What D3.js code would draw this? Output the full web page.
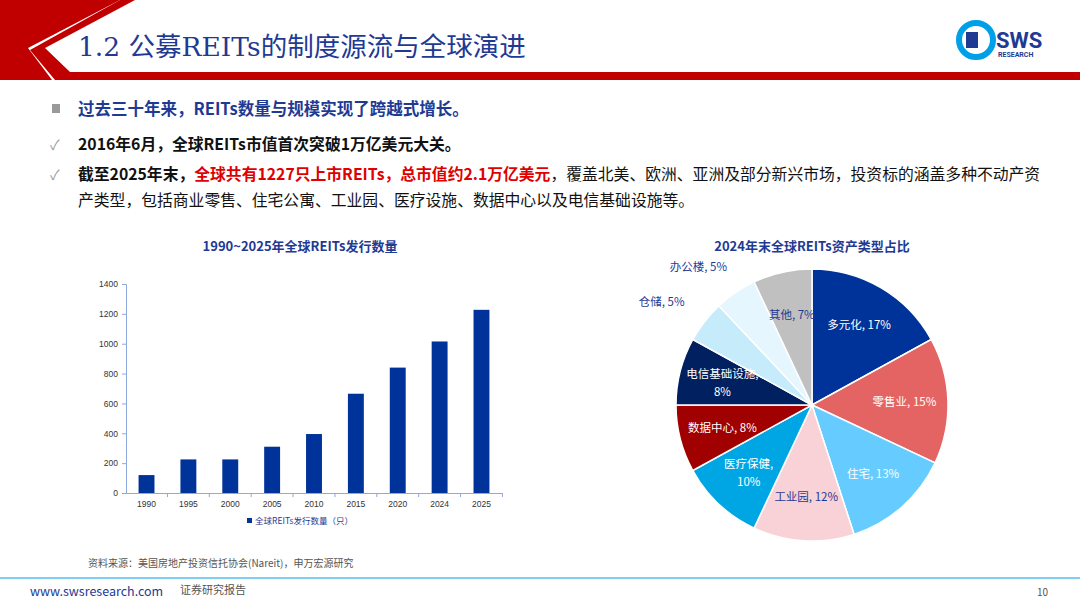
<!DOCTYPE html>
<html><head><meta charset="utf-8">
<script src="https://cdn.jsdelivr.net/npm/d3@7"></script>
<style>body{margin:0;background:#fff}svg{display:block;font-family:"Noto Sans CJK SC","Noto Sans",sans-serif}</style>
</head><body><svg id="c" width="1080" height="608"></svg>
<script>
const years = ['1990','1995','2000','2005','2010','2015','2020','2024','2025'];
const counts = [120, 225, 225, 310, 395, 665, 840, 1015, 1227];
const yTicks = [0,200,400,600,800,1000,1200,1400];
const types = ['多元化','零售业','住宅','工业园','医疗保健','数据中心','电信基础设施','仓储','办公楼','其他'];
const shares = [17,15,13,12,10,8,8,5,5,7];
const colors = ['#003399','#e46464','#66ccff','#f8d2d6','#00a6e4','#a00000','#002060','#c6ecfc','#e6f6fe','#c0c0c0'];
const labelColors = ['#fff','#fff','#fff','#1f3a93','#fff','#fff','#fff','#1f3a93','#1f3a93','#1f3a93'];

const svg = d3.select('#c');

// header
svg.append('path').attr('d','M0,0 L120,0 L30,50 L55,80 L1080,80 L1080,72 L70,72 L45,48 L135,0 Z').attr('fill','#c00000');
svg.append('path').attr('d','M0,0 L120,0 L28,48 L52,80 L0,80 Z').attr('fill','#c00000');
svg.append('text').attr('x',78).attr('y',56).attr('font-size',26.5).attr('fill','#1f3a93')
  .attr('font-family','"DejaVu Serif","Noto Sans CJK SC",serif').text('1.2 公募REITs的制度源流与全球演进');
const logo = svg.append('g').attr('transform','translate(958,22)');
logo.append('circle').attr('cx',18).attr('cy',18).attr('r',17).attr('fill','none').attr('stroke','#00a0e9').attr('stroke-width',6);
logo.append('rect').attr('x',8).attr('y',10).attr('width',12).attr('height',16).attr('fill','#1f3a93');
logo.append('text').attr('x',38).attr('y',26).attr('font-size',22).attr('font-weight','bold').attr('fill','#1f3a93').attr('font-family','Roboto').text('SWS');
logo.append('text').attr('x',40).attr('y',35).attr('font-size',7).attr('font-weight','bold').attr('fill','#1f3a93').attr('font-family','Roboto').text('RESEARCH');

// bullets
svg.append('rect').attr('x',52).attr('y',104).attr('width',8).attr('height',9).attr('fill','#999');
svg.append('text').attr('x',78).attr('y',115).attr('font-size',16.5).attr('font-weight','bold').attr('fill','#1f3a93').text('过去三十年来，REITs数量与规模实现了跨越式增长。');
svg.append('text').attr('x',50).attr('y',150).attr('font-size',14).attr('fill','#999').text('✓');
svg.append('text').attr('x',78).attr('y',150).attr('font-size',15.8).attr('font-weight','bold').attr('fill','#111').text('2016年6月，全球REITs市值首次突破1万亿美元大关。');
svg.append('text').attr('x',50).attr('y',180).attr('font-size',14).attr('fill','#999').text('✓');
const t3 = svg.append('text').attr('x',78).attr('y',180).attr('font-size',15.8).attr('fill','#111');
t3.append('tspan').attr('font-weight','bold').text('截至2025年末，');
t3.append('tspan').attr('font-weight','bold').attr('fill','#e00000').text('全球共有1227只上市REITs，总市值约2.1万亿美元');
t3.append('tspan').text('，覆盖北美、欧洲、亚洲及部分新兴市场，投资标的涵盖多种不动产资');
svg.append('text').attr('x',78).attr('y',206).attr('font-size',15.8).attr('fill','#111').text('产类型，包括商业零售、住宅公寓、工业园、医疗设施、数据中心以及电信基础设施等。');

// bar chart
svg.append('text').attr('x',300).attr('y',251).attr('text-anchor','middle').attr('font-size',13).attr('font-weight','bold').attr('fill','#1f3a93').text('1990~2025年全球REITs发行数量');
const x = d3.scaleBand().domain(years).range([126,502]).paddingInner(0.62).paddingOuter(0.3);
const y = d3.scaleLinear().domain([0,1400]).range([493,284]);
const gx = svg.append('g').attr('transform','translate(0,493)').call(d3.axisBottom(x).tickSize(0).tickPadding(8));
gx.selectAll('.tick').append('line').attr('x1',x.step()/2).attr('x2',x.step()/2).attr('y2',4).attr('stroke','#8ea9db');
const gy = svg.append('g').attr('transform','translate(126,0)').call(d3.axisLeft(y).tickValues(yTicks).tickFormat(d3.format('d')).tickSize(4).tickPadding(4));
[gx,gy].forEach(g=>{g.selectAll('path,line').attr('stroke','#8ea9db');g.selectAll('text').attr('font-size',8.5).attr('fill','#333').attr('font-family','"Liberation Sans",Arial');});
svg.selectAll('.bar').data(counts).enter().append('rect')
  .attr('x',(d,i)=>x(years[i])).attr('y',d=>y(d)).attr('width',x.bandwidth()).attr('height',d=>493-y(d)).attr('fill','#003399');
svg.append('rect').attr('x',247).attr('y',518).attr('width',5).attr('height',5).attr('fill','#003399');
svg.append('text').attr('x',255).attr('y',524).attr('font-size',8.5).attr('fill','#1f3a93').text('全球REITs发行数量（只）');
svg.append('text').attr('x',88).attr('y',567).attr('font-size',10).attr('fill','#555').text('资料来源：美国房地产投资信托协会(Nareit)，申万宏源研究');

// pie
svg.append('text').attr('x',812).attr('y',251).attr('text-anchor','middle').attr('font-size',13).attr('font-weight','bold').attr('fill','#1f3a93').text('2024年末全球REITs资产类型占比');
const cx=812, cy=405, r=136;
const arcs = d3.pie().sort(null)(shares);
const arc = d3.arc().innerRadius(0).outerRadius(r);
const pg = svg.append('g').attr('transform',`translate(${cx},${cy})`);
pg.selectAll('path').data(arcs).enter().append('path').attr('d',arc)
  .attr('fill',(d,i)=>colors[i]).attr('stroke','#fff').attr('stroke-width',1.5);
const lab = d3.arc().innerRadius(r*0.68).outerRadius(r*0.68);
const outer = d3.arc().innerRadius(r*1.12).outerRadius(r*1.12);
pg.selectAll('text.l').data(arcs).enter().append('text')
  .attr('font-size',11.5).attr('text-anchor','middle').attr('fill',(d,i)=>labelColors[i])
  .each(function(d,i){
    const el=d3.select(this);
    let p = (i===7||i===8) ? outer.centroid(d) : lab.centroid(d);
    if(i===7) p=[p[0]-30,p[1]-10];
    if(i===8) p=[p[0]-28,p[1]-12];
    if(i===4||i===6){
      el.append('tspan').attr('x',p[0]).attr('y',p[1]-4).text(types[i]+',');
      el.append('tspan').attr('x',p[0]).attr('y',p[1]+14).text(shares[i]+'%');
    } else {
      el.attr('x',p[0]).attr('y',p[1]+4).text(`${types[i]}, ${shares[i]}%`);
    }
  });

// footer
svg.append('line').attr('x1',0).attr('x2',1080).attr('y1',578).attr('y2',578).attr('stroke','#00a0e9').attr('stroke-width',1);
svg.append('text').attr('x',30).attr('y',596).attr('font-size',12.5).attr('fill','#1f3a93').text('www.swsresearch.com');
svg.append('text').attr('x',180).attr('y',594).attr('font-size',11).attr('fill','#555').text('证券研究报告');
svg.append('text').attr('x',1048).attr('y',596).attr('font-size',10).attr('fill','#555').attr('text-anchor','end').text('10');
</script></body></html>
